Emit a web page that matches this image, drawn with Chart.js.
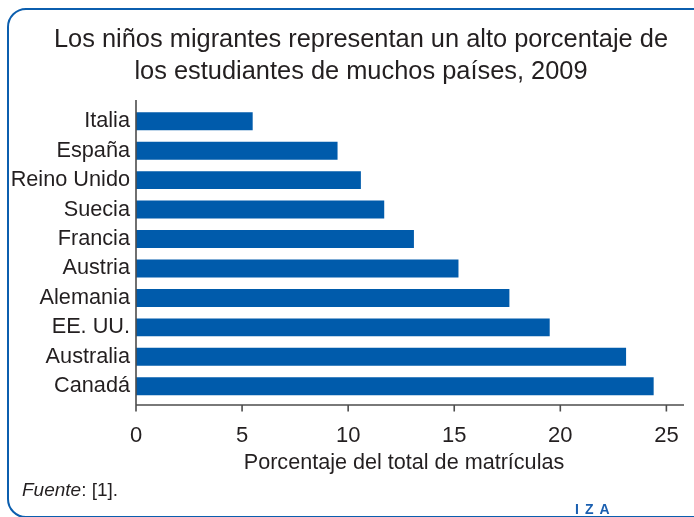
<!DOCTYPE html>
<html>
<head>
<meta charset="utf-8">
<script src="https://cdn.jsdelivr.net/npm/chart.js@4/dist/chart.umd.min.js"></script>
<style>
  html, body { margin: 0; padding: 0; background: #fff; }
  #wrap { position: relative; width: 694px; height: 517px; overflow: hidden; font-family: "Liberation Sans", Arial, sans-serif; color: #231f20; }
  #box { position: absolute; left: 7px; top: 8px; width: 720px; height: 510px; border: 2.5px solid #0b5eae; border-radius: 19px; box-sizing: border-box; }
  #title { position: absolute; left: 28px; width: 666px; top: 22px; text-align: center; font-size: 25.4px; line-height: 32px; }
  #xtitle { position: absolute; left: 404px; top: 449px; transform: translateX(-50%); white-space: nowrap; font-size: 21.6px; line-height: 26px; }
  #src { position: absolute; left: 22px; top: 478px; font-size: 19px; line-height: 24px; }
  #iza { position: absolute; left: 575px; top: 501px; font-size: 14px; font-weight: bold; letter-spacing: 6px; color: #1a5fb0; line-height: 16px; }
  canvas { position: absolute; left: 0; top: 0; }
</style>
</head>
<body>
<div id="wrap">
  <canvas id="c" width="694" height="517"></canvas>
  <div id="box"></div>
  <div id="title">Los niños migrantes representan un alto porcentaje de<br>los estudiantes de muchos países, 2009</div>
  <div id="xtitle">Porcentaje del total de matrículas</div>
  <div id="src"><i>Fuente</i>: [1].</div>
  <div id="iza">IZA</div>
</div>
<script>
const countries = ['Italia', 'España', 'Reino Unido', 'Suecia', 'Francia', 'Austria', 'Alemania', 'EE. UU.', 'Australia', 'Canadá'];
const shares = [5.5, 9.5, 10.6, 11.7, 13.1, 15.2, 17.6, 19.5, 23.1, 24.4];
const xTicks = [0, 5, 10, 15, 20, 25];

const axisLines = {
  id: 'axisLines',
  afterDraw(chart) {
    const { ctx, chartArea, scales } = chart;
    const yLine = chartArea.bottom + 4;
    ctx.save();
    ctx.strokeStyle = '#4d4d4d';
    ctx.lineWidth = 1.6;
    ctx.beginPath();
    ctx.moveTo(chartArea.left, chartArea.top - 6.5);
    ctx.lineTo(chartArea.left, yLine);
    ctx.moveTo(chartArea.left, yLine);
    ctx.lineTo(chartArea.right, yLine);
    xTicks.forEach(v => {
      const x = scales.x.getPixelForValue(v);
      ctx.moveTo(x, yLine);
      ctx.lineTo(x, yLine + 6.5);
    });
    ctx.stroke();
    ctx.restore();
  }
};

new Chart(document.getElementById('c'), {
  type: 'bar',
  data: {
    labels: countries,
    datasets: [{
      data: shares,
      backgroundColor: '#005bab',
      borderWidth: 0,
      categoryPercentage: 1,
      barPercentage: 0.61
    }]
  },
  options: {
    indexAxis: 'y',
    responsive: false,
    animation: false,
    layout: { padding: { top: 106.5, right: 10, left: 0, bottom: 0 } },
    plugins: { legend: { display: false }, tooltip: { enabled: false } },
    scales: {
      x: {
        min: 0,
        max: 25.83,
        afterBuildTicks: s => { s.ticks = xTicks.map(v => ({ value: v })); },
        afterFit: s => { s.height = 116; s.paddingLeft = 0; s.paddingRight = 0; },
        grid: { display: false, drawTicks: false },
        border: { display: false },
        ticks: { color: '#231f20', padding: 22, font: { family: '"Liberation Sans", Arial, sans-serif', size: 22 } }
      },
      y: {
        afterFit: s => { s.width = 136; s.paddingTop = 0; s.paddingBottom = 0; },
        grid: { display: false, drawTicks: false },
        border: { display: false },
        ticks: { color: '#231f20', padding: 6, font: { family: '"Liberation Sans", Arial, sans-serif', size: 21.7 } }
      }
    }
  },
  plugins: [axisLines]
});
</script>
</body>
</html>
